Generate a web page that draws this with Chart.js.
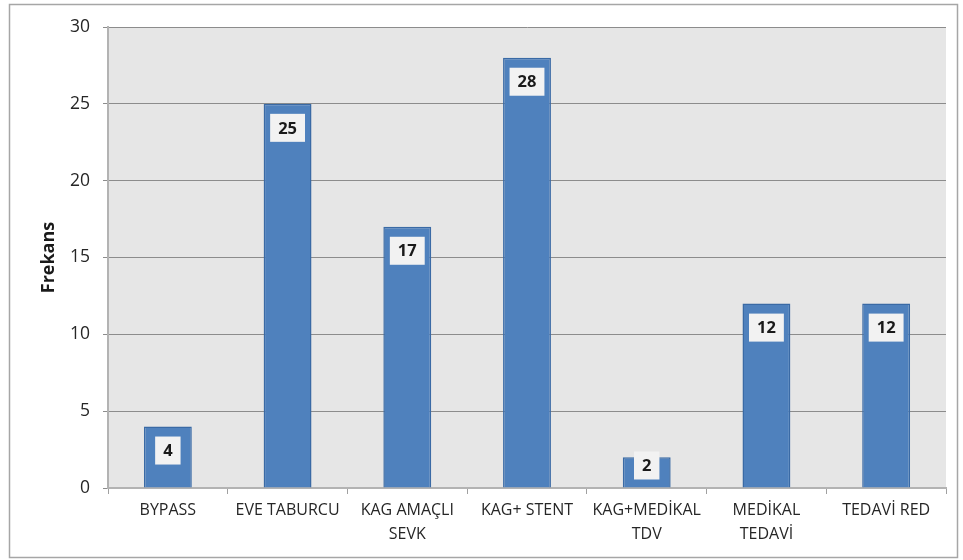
<!DOCTYPE html>
<html>
<head>
<meta charset="utf-8">
<script src="https://cdn.jsdelivr.net/npm/chart.js@4.4.1/dist/chart.umd.min.js"></script>
<style>
html,body{margin:0;padding:0;background:#fff;}
#wrap{width:963px;height:560px;position:relative;}
</style>
</head>
<body>
<div id="wrap"><canvas id="c" width="963" height="560"></canvas></div>
<script>
const categories = [
  ["BYPASS"],
  ["EVE TABURCU"],
  ["KAG AMAÇLI", "SEVK"],
  ["KAG+ STENT"],
  ["KAG+MEDİKAL", "TDV"],
  ["MEDİKAL", "TEDAVİ"],
  ["TEDAVİ RED"]
];
const frekans = [4, 25, 17, 28, 2, 12, 12];
const yTicks = [0, 5, 10, 15, 20, 25, 30];
const yTitle = "Frekans";

const FONT = "'Open Sans', 'Noto Sans', sans-serif";

const framePlugin = {
  id: 'frame',
  beforeDraw(chart) {
    const {ctx, chartArea: a} = chart;
    ctx.save();
    ctx.fillStyle = '#ffffff';
    ctx.fillRect(0, 0, chart.width, chart.height);
    ctx.strokeStyle = '#a6a6a6';
    ctx.lineWidth = 1.5;
    ctx.strokeRect(9.5, 4.5, 948, 553);
    ctx.fillStyle = '#e6e6e6';
    ctx.fillRect(a.left, a.top, a.right - a.left, a.bottom - a.top);
    ctx.restore();
  }
};

const labelPlugin = {
  id: 'valueLabels',
  afterDatasetsDraw(chart) {
    const {ctx} = chart;
    const meta = chart.getDatasetMeta(0);
    ctx.save();
    ctx.font = "bold 16.5px " + FONT;
    ctx.textAlign = 'center';
    ctx.textBaseline = 'middle';
    meta.data.forEach((bar, i) => {
      const v = chart.data.datasets[0].data[i];
      const txt = String(v);
      const tw = ctx.measureText(txt).width;
      const w = tw + 16, h = 28;
      const cy = Math.min(bar.y + 24, bar.base - 22);
      ctx.fillStyle = '#f2f2f2';
      ctx.fillRect(bar.x - w / 2, cy - h / 2, w, h);
      ctx.fillStyle = '#1a1a1a';
      ctx.fillText(txt, bar.x, cy + 1);
    });
    ctx.restore();
  }
};

new Chart(document.getElementById('c'), {
  type: 'bar',
  data: {
    labels: categories,
    datasets: [{
      data: frekans,
      backgroundColor: '#4f81bd',
      borderColor: '#3a6aa5',
      borderWidth: 1.5,
      borderSkipped: 'bottom',
      barPercentage: 0.4,
      categoryPercentage: 1.0
    }]
  },
  options: {
    responsive: false,
    animation: false,
    devicePixelRatio: 1,
    layout: {padding: {left: 0, top: 27, right: 17, bottom: 0}},
    plugins: {legend: {display: false}, tooltip: {enabled: false}},
    scales: {
      x: {
        offset: true,
        grid: {
          display: true, offset: true, drawOnChartArea: false, drawTicks: true,
          tickLength: 6, color: '#a0a0a0', lineWidth: 1
        },
        border: {display: true, color: '#b3b3b3', width: 2},
        ticks: {
          color: '#262626', padding: 4, maxRotation: 0, autoSkip: false,
          font: {family: FONT, size: 16, lineHeight: 1.5}
        },
        afterFit(s) { s.height = 72; }
      },
      y: {
        min: 0, max: 30,
        afterBuildTicks(s) { s.ticks = yTicks.map(v => ({value: v})); },
        grid: {color: '#8c8c8c', lineWidth: 1, tickLength: 5, drawTicks: true},
        border: {display: true, color: '#b3b3b3', width: 2},
        ticks: {
          color: '#262626', padding: 13,
          font: {family: FONT, size: 17.5}
        },
        title: {
          display: true, text: yTitle, color: '#1a1a1a',
          font: {family: FONT, size: 18, weight: 'bold'},
          padding: {top: 38, bottom: 0}
        },
        afterFit(s) { s.width = 108; }
      }
    }
  },
  plugins: [framePlugin, labelPlugin]
});
</script>
</body>
</html>
